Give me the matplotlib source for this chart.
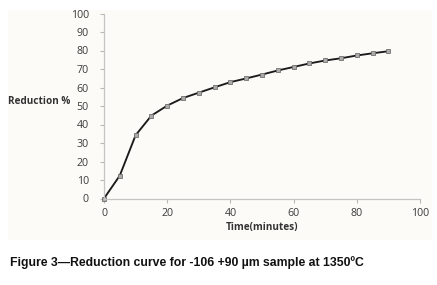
import matplotlib.pyplot as plt
from matplotlib.patches import Rectangle

# reduction curve data
time_min = [0, 5, 10, 15, 20, 25, 30, 35, 40, 45, 50, 55, 60, 65, 70, 75, 80, 85, 90]
reduction = [0, 12.4, 34.2, 44.8, 50.2, 54.3, 57.2, 60.1, 62.9, 64.9, 67.0,
             69.2, 71.1, 73.0, 74.6, 75.8, 77.3, 78.5, 79.6]
x_ticks = [0, 20, 40, 60, 80, 100]
y_ticks = [0, 10, 20, 30, 40, 50, 60, 70, 80, 90, 100]

plt.rcParams['font.family'] = ['Open Sans', 'DejaVu Sans']

fig = plt.figure(figsize=(4.37, 2.85), dpi=100)
bg = Rectangle((8 / 437, 1 - 240 / 285), 424 / 437, 230 / 285,
               transform=fig.transFigure, facecolor='#fcfbf8',
               edgecolor='none', zorder=-10)
fig.add_artist(bg)

ax = fig.add_axes([104 / 437, 1 - 198.5 / 285, 316 / 437, 185 / 285])
ax.patch.set_alpha(0)
ax.plot(time_min, reduction, c='#1a1a1a', lw=1.35, marker='s', ms=3.4,
        mfc='#ababab', mec='#707070', mew=0.6, clip_on=False)

ax.set_xlim(0, 100)
ax.set_ylim(0, 100)
ax.set_xticks(x_ticks)
ax.set_yticks(y_ticks)
ax.tick_params(axis='both', labelsize=7.7, colors='#b8b8b8', labelcolor='#3a3a3a',
               length=3, width=0.8)
ax.tick_params(axis='x', pad=4)
ax.tick_params(axis='y', pad=8)
for s in ['top', 'right']:
    ax.spines[s].set_visible(False)
for s in ['left', 'bottom']:
    ax.spines[s].set_color('#c4c4c4')
    ax.spines[s].set_linewidth(0.9)

ax.set_xlabel('Time(minutes)', fontsize=7.2, fontweight='bold', color='#333333', labelpad=2)
fig.text(8 / 437, 1 - 101 / 285, 'Reduction %', fontsize=7.2, fontweight='bold',
         color='#333333', va='center', ha='left')

fig.text(10 / 437, 1 - 263 / 285,
         'Figure 3\u2014Reduction curve for -106 +90 \u00b5m sample at 1350\u00baC',
         fontsize=8.8, fontweight='bold', family=['Liberation Sans', 'DejaVu Sans'],
         color='#111111', va='center', ha='left')

plt.savefig('out.png', dpi=100)
